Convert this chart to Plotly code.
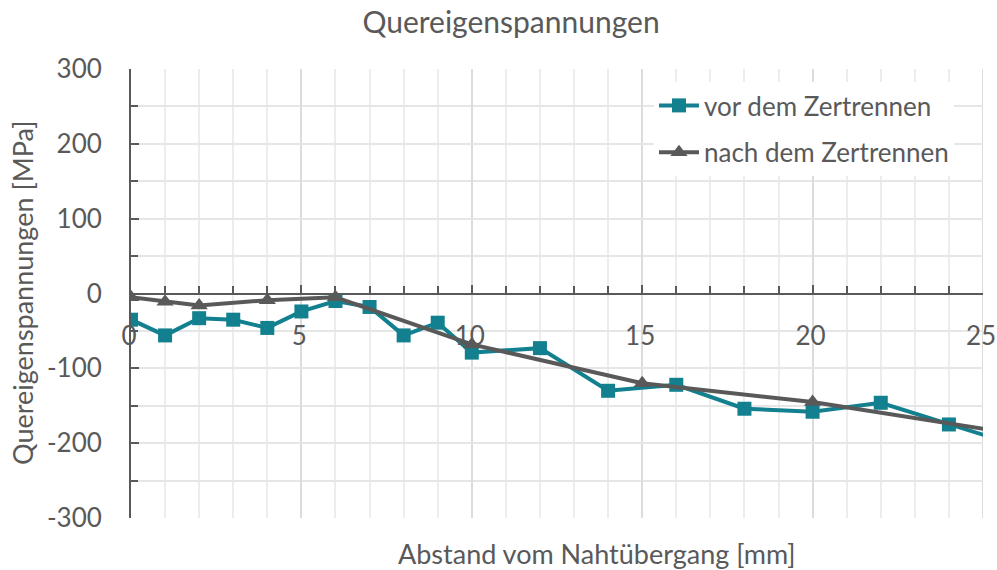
import plotly.graph_objects as go

# Abstand vom Nahtübergang [mm] and transverse residual stress [MPa]
x_vor = [0, 1, 2, 3, 4, 5, 6, 7, 8, 9, 10, 12, 14, 16, 18, 20, 22, 24, 26]
y_vor = [-35, -56, -33, -35, -46, -24, -10, -18, -56, -39, -79, -73, -130, -122,
         -154, -158, -146, -175, -203]

x_nach = [0, 1, 2, 4, 6, 10, 15, 20, 26]
y_nach = [-5, -11, -16, -9, -5, -68, -120, -145, -188]

name_vor = "vor dem Zertrennen"
name_nach = "nach dem Zertrennen"

x_ticks = [0, 5, 10, 15, 20, 25]
y_ticks = [-300, -200, -100, 0, 100, 200, 300]
x_max = 25

TEXT = "#595959"
FONT = "Lato"
C_VOR = "#12808F"
C_NACH = "#595959"

fig = go.Figure()
fig.add_trace(go.Scatter(
    x=x_vor, y=y_vor, name=name_vor, mode="lines+markers",
    line=dict(color=C_VOR, width=4),
    marker=dict(symbol="square", size=14, color=C_VOR),
    legendgroup="a",
))
fig.add_trace(go.Scatter(
    x=x_nach, y=y_nach, name=name_nach, mode="lines+markers",
    line=dict(color=C_NACH, width=4),
    marker=dict(symbol="triangle-up", size=15, color=C_NACH),
    legendgroup="b",
))

L, R, T, B = 131, 14, 69, 52
W, H = 997, 570
pw = W - L - R
ph = H - T - B

fig.update_layout(
    width=W, height=H,
    margin=dict(l=L, r=R, t=T, b=B, autoexpand=False),
    paper_bgcolor="white", plot_bgcolor="white",
    font=dict(family=FONT, color=TEXT, size=26),
    title=dict(text="Quereigenspannungen", xref="container", yref="container",
               x=511 / W, y=1 - 22 / H, xanchor="center", yanchor="middle",
               font=dict(size=30, color=TEXT, family=FONT)),
    legend=dict(x=(654 - L) / pw, y=(H - B - 82) / ph, xanchor="left", yanchor="top",
                bgcolor="white", font=dict(size=26, color=TEXT, family=FONT),
                tracegroupgap=10, itemwidth=40),
    showlegend=True,
)

fig.update_xaxes(
    range=[0, x_max], anchor="free", position=0.5, automargin=False,
    tickvals=x_ticks, ticktext=[str(v) for v in x_ticks],
    ticklabeloverflow="allow", ticklabelshift=-2,
    showline=True, linecolor="#595959", linewidth=2,
    ticks="inside", ticklen=8, tickwidth=2, tickcolor="#595959",
    ticklabelstandoff=19,
    tickfont=dict(size=26, color=TEXT, family=FONT),
    showgrid=True, gridcolor="#DCDCDC", gridwidth=2,
    zeroline=False,
    minor=dict(dtick=1, ticks="inside", ticklen=7, tickwidth=2, tickcolor="#595959",
               showgrid=True, gridcolor="#EDEDED", gridwidth=2),
)

fig.update_yaxes(
    range=[-300, 300], automargin=False,
    tickvals=y_ticks, ticktext=[str(v) for v in y_ticks],
    showline=True, linecolor="#595959", linewidth=2,
    ticks="inside", ticklen=8, tickwidth=2, tickcolor="#595959",
    ticklabelstandoff=22,
    tickfont=dict(size=26, color=TEXT, family=FONT),
    showgrid=True, gridcolor="#E6E6E6", gridwidth=2,
    zeroline=False,
    minor=dict(dtick=50, ticks="inside", ticklen=7, tickwidth=2, tickcolor="#595959",
               showgrid=True, gridcolor="#E6E6E6", gridwidth=2),
)

# gridline along the right edge of the plot area
fig.add_shape(type="line", xref="x", yref="paper", x0=x_max, x1=x_max, y0=0, y1=1,
              line=dict(color="#DCDCDC", width=2), layer="below")

fig.add_annotation(text="Abstand vom Nahtübergang [mm]", xref="paper", yref="paper",
                   x=(597 - L) / pw, y=(H - B - 553) / ph, showarrow=False,
                   xanchor="center", yanchor="middle",
                   font=dict(size=27, color=TEXT, family=FONT))
fig.add_annotation(text="Quereigenspannungen [MPa]", xref="paper", yref="paper",
                   x=(22 - L) / pw, y=(H - B - 293) / ph, showarrow=False,
                   textangle=-90, xanchor="center", yanchor="middle",
                   font=dict(size=27, color=TEXT, family=FONT))

fig.write_html("out.html")
